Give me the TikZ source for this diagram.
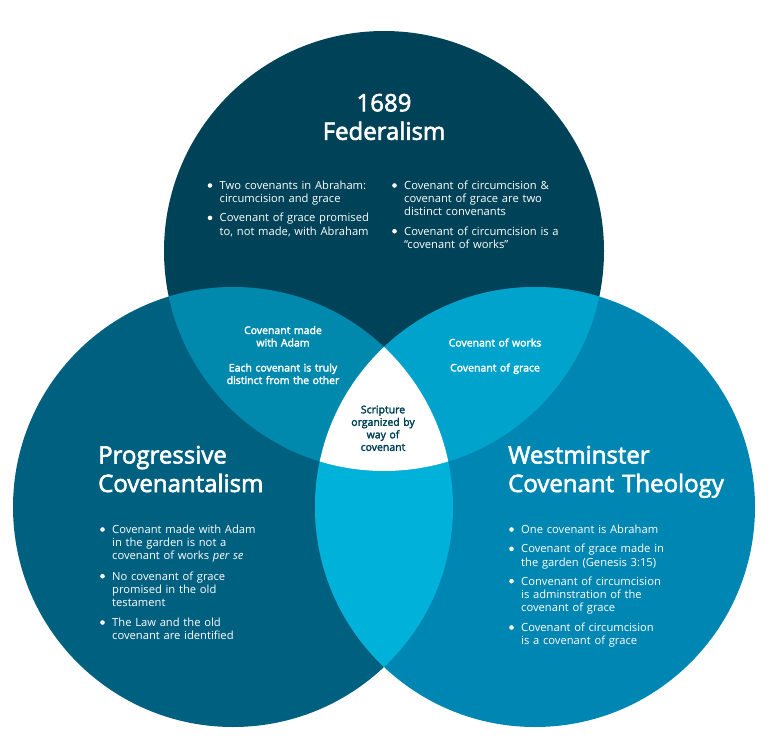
\documentclass[tikz,border=0pt]{standalone}
\usepackage{fontspec}
\setmainfont{Open Sans}
\newfontfamily\semibold{Open Sans}[FakeBold=2.5]
\definecolor{fedBlue}{RGB}{0,67,89}
\definecolor{progBlue}{RGB}{0,96,128}
\definecolor{wctBlue}{RGB}{0,134,178}
\definecolor{fedProgBlue}{RGB}{0,137,173}
\definecolor{fedWctBlue}{RGB}{0,163,204}
\definecolor{progWctBlue}{RGB}{0,178,218}
\begin{document}
\begin{tikzpicture}[
                x=1bp, y=-1bp,
                vennR/.style={radius=220bp},
                vennHead/.style={text=white,inner sep=0pt,anchor=base west,
                                 align=left,text width=300bp,
                                 font=\semibold\fontsize{24bp}{28.5bp}\selectfont},
                vennItem/.style={text=white,inner sep=0pt,anchor=base west,
                                 align=left,text width=190bp,
                                 font=\fontsize{11.2bp}{13.3bp}\selectfont},
                vennShared/.style={text=white,inner sep=0pt,anchor=base,
                                   align=center,text width=160bp,
                                   font=\semibold\fontsize{10.5bp}{12.5bp}\selectfont},
                vennDot/.style={circle,fill=white,minimum size=4.6bp,inner sep=0pt}]
    \useasboundingbox (0,0) rectangle (768,754);
    \coordinate (fedC) at (384,251);
    \coordinate (progC) at (233,507);
    \coordinate (wctC) at (535,507);
    % circles and their overlaps
    \fill[fedBlue] (fedC) circle[vennR];
    \fill[progBlue] (progC) circle[vennR];
    \fill[wctBlue] (wctC) circle[vennR];
    \begin{scope}
        \clip (progC) circle[vennR];
        \fill[progWctBlue] (wctC) circle[vennR];
        \fill[fedProgBlue] (fedC) circle[vennR];
    \end{scope}
    \begin{scope}
        \clip (wctC) circle[vennR];
        \fill[fedWctBlue] (fedC) circle[vennR];
    \end{scope}
    \begin{scope}
        \clip (progC) circle[vennR];
        \clip (wctC) circle[vennR];
        \fill[white] (fedC) circle[vennR];
    \end{scope}
    % headings
    \node[vennHead,align=center,anchor=base] (fedHead) at (384,111.3) {1689\\Federalism};
    \node[vennHead] (progHead) at (98,463.5) {Progressive\\Covenantalism};
    \node[vennHead] (wctHead) at (508,463.5) {Westminster\\Covenant Theology};
    % 1689 Federalism
    \node[vennItem] (fedA) at (219.5,189.3) {Two covenants in Abraham:\\circumcision and grace};
    \node[vennItem] (fedB) at (219.5,221.7) {Covenant of grace promised\\to, not made, with Abraham};
    \node[vennItem] (fedC1) at (404,189.3) {Covenant of circumcision \&\\covenant of grace are two\\distinct convenants};
    \node[vennItem] (fedD) at (404,235) {Covenant of circumcision is a\\``covenant of works''};
    % Progressive Covenantalism
    \node[vennItem] (progA) at (112,533.3) {Covenant made with Adam\\in the garden is not a\\covenant of works \emph{per se}};
    \node[vennItem] (progB) at (112,580) {No covenant of grace\\promised in the old\\testament};
    \node[vennItem] (progD) at (112,626.3) {The Law and the old\\covenant are identified};
    % Westminster Covenant Theology
    \node[vennItem] (wctA) at (521,533.3) {One covenant is Abraham};
    \node[vennItem] (wctB) at (521,552.7) {Covenant of grace made in\\the garden (Genesis 3:15)};
    \node[vennItem] (wctD) at (521,585) {Convenant of circumcision\\is adminstration of the\\covenant of grace};
    \node[vennItem] (wctE) at (521,631.3) {Covenant of circumcision\\is a covenant of grace};
    \foreach \item in {fedA,fedB,fedC1,fedD,progA,progB,progD,wctA,wctB,wctD,wctE}
        \node[vennDot] at ([xshift=-9.5bp,yshift=3.8bp]\item.base west) {};
    % overlaps
    \node[vennShared] (fedProg) at (283,334) {Covenant made\\with Adam\\[12.5bp]Each covenant is truly\\distinct from the other};
    \node[vennShared] (fedWct) at (495,346.5) {Covenant of works\\[12.5bp]Covenant of grace};
    \node[vennShared,text=fedBlue] (allThree) at (383,413.3) {Scripture\\organized by\\way of\\covenant};
\end{tikzpicture}
\end{document}
